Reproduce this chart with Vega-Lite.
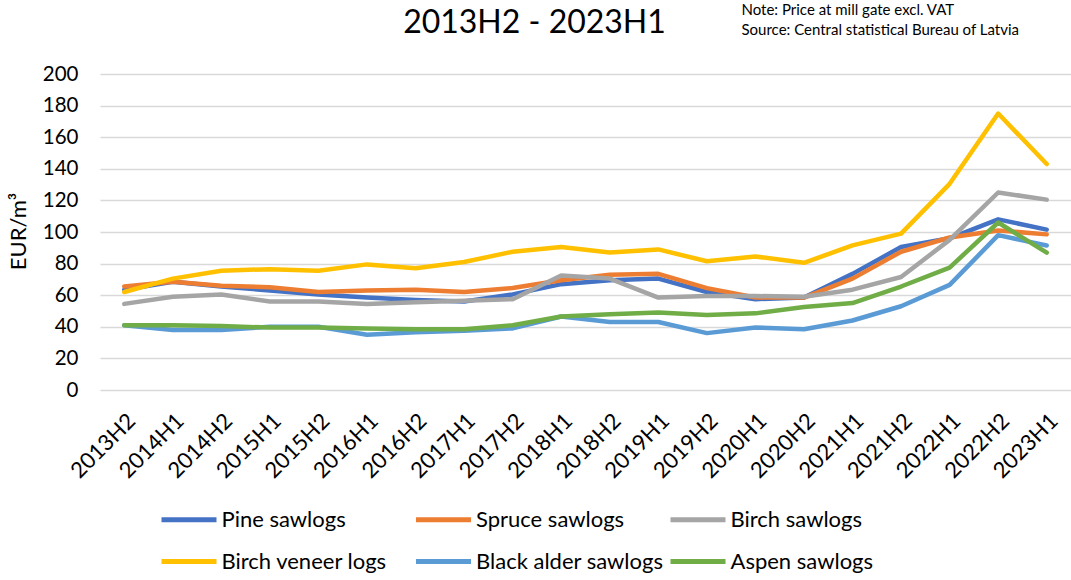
{
  "$schema": "https://vega.github.io/schema/vega-lite/v6.json",
  "width": 971,
  "height": 316,
  "autosize": "none",
  "padding": {"left": 100, "top": 74, "right": 0, "bottom": 190},
  "background": "white",
  "title": {
    "text": "2013H2 - 2023H1",
    "anchor": "middle",
    "frame": "group",
    "dx": -51,
    "baseline": "alphabetic",
    "offset": -63,
    "font": "Lato",
    "fontSize": 32,
    "fontWeight": "normal",
    "color": "#000000"
  },
  "data": {
    "values": [
      {"period": "2013H2", "Pine sawlogs": 63.5, "Spruce sawlogs": 65.5, "Birch sawlogs": 54.5, "Birch veneer logs": 62, "Black alder sawlogs": 41, "Aspen sawlogs": 41},
      {"period": "2014H1", "Pine sawlogs": 68.5, "Spruce sawlogs": 68.5, "Birch sawlogs": 59, "Birch veneer logs": 70.5, "Black alder sawlogs": 38, "Aspen sawlogs": 41},
      {"period": "2014H2", "Pine sawlogs": 65.5, "Spruce sawlogs": 66, "Birch sawlogs": 60.5, "Birch veneer logs": 75.5, "Black alder sawlogs": 38, "Aspen sawlogs": 40.5},
      {"period": "2015H1", "Pine sawlogs": 63, "Spruce sawlogs": 65, "Birch sawlogs": 56, "Birch veneer logs": 76.5, "Black alder sawlogs": 40, "Aspen sawlogs": 39.5},
      {"period": "2015H2", "Pine sawlogs": 60.5, "Spruce sawlogs": 62, "Birch sawlogs": 56, "Birch veneer logs": 75.5, "Black alder sawlogs": 40, "Aspen sawlogs": 39.5},
      {"period": "2016H1", "Pine sawlogs": 58.5, "Spruce sawlogs": 63, "Birch sawlogs": 54.5, "Birch veneer logs": 79.5, "Black alder sawlogs": 35, "Aspen sawlogs": 39},
      {"period": "2016H2", "Pine sawlogs": 57, "Spruce sawlogs": 63.5, "Birch sawlogs": 55.5, "Birch veneer logs": 77, "Black alder sawlogs": 36.5, "Aspen sawlogs": 38.5},
      {"period": "2017H1", "Pine sawlogs": 56, "Spruce sawlogs": 62, "Birch sawlogs": 56.5, "Birch veneer logs": 81, "Black alder sawlogs": 37.5, "Aspen sawlogs": 38.5},
      {"period": "2017H2", "Pine sawlogs": 60.5, "Spruce sawlogs": 64.5, "Birch sawlogs": 57.5, "Birch veneer logs": 87.5, "Black alder sawlogs": 39, "Aspen sawlogs": 41},
      {"period": "2018H1", "Pine sawlogs": 67, "Spruce sawlogs": 69.5, "Birch sawlogs": 72.5, "Birch veneer logs": 90.5, "Black alder sawlogs": 46.5, "Aspen sawlogs": 46.5},
      {"period": "2018H2", "Pine sawlogs": 69.5, "Spruce sawlogs": 73, "Birch sawlogs": 70.5, "Birch veneer logs": 87, "Black alder sawlogs": 43, "Aspen sawlogs": 48},
      {"period": "2019H1", "Pine sawlogs": 70.5, "Spruce sawlogs": 73.5, "Birch sawlogs": 58.5, "Birch veneer logs": 89, "Black alder sawlogs": 43, "Aspen sawlogs": 49},
      {"period": "2019H2", "Pine sawlogs": 62, "Spruce sawlogs": 64.5, "Birch sawlogs": 59.5, "Birch veneer logs": 81.5, "Black alder sawlogs": 36, "Aspen sawlogs": 47.5},
      {"period": "2020H1", "Pine sawlogs": 57.5, "Spruce sawlogs": 58.5, "Birch sawlogs": 59.5, "Birch veneer logs": 84.5, "Black alder sawlogs": 39.5, "Aspen sawlogs": 48.5},
      {"period": "2020H2", "Pine sawlogs": 58.5, "Spruce sawlogs": 58.5, "Birch sawlogs": 59, "Birch veneer logs": 80.5, "Black alder sawlogs": 38.5, "Aspen sawlogs": 52.5},
      {"period": "2021H1", "Pine sawlogs": 73.5, "Spruce sawlogs": 70.5, "Birch sawlogs": 63.5, "Birch veneer logs": 91.5, "Black alder sawlogs": 44, "Aspen sawlogs": 55},
      {"period": "2021H2", "Pine sawlogs": 90.5, "Spruce sawlogs": 87.5, "Birch sawlogs": 71.5, "Birch veneer logs": 99, "Black alder sawlogs": 53, "Aspen sawlogs": 65.5},
      {"period": "2022H1", "Pine sawlogs": 96, "Spruce sawlogs": 96.5, "Birch sawlogs": 95, "Birch veneer logs": 130.5, "Black alder sawlogs": 66.5, "Aspen sawlogs": 77.5},
      {"period": "2022H2", "Pine sawlogs": 108, "Spruce sawlogs": 101, "Birch sawlogs": 125, "Birch veneer logs": 175, "Black alder sawlogs": 98, "Aspen sawlogs": 106},
      {"period": "2023H1", "Pine sawlogs": 101.5, "Spruce sawlogs": 98.5, "Birch sawlogs": 120.5, "Birch veneer logs": 143, "Black alder sawlogs": 91.5, "Aspen sawlogs": 87}
    ]
  },
  "transform": [
    {"fold": ["Pine sawlogs", "Spruce sawlogs", "Birch sawlogs", "Birch veneer logs", "Black alder sawlogs", "Aspen sawlogs"], "as": ["assortment", "price"]}
  ],
  "mark": {"type": "line", "strokeWidth": 4.5, "strokeJoin": "round", "strokeCap": "round"},
  "encoding": {
    "x": {
      "field": "period",
      "type": "ordinal",
      "sort": null,
      "scale": {"type": "point", "padding": 0.5},
      "axis": {
        "title": ["Note: Price at mill gate excl. VAT", "Source: Central statistical Bureau of Latvia"],
        "titleFont": "Lato",
        "titleFontSize": 15,
        "titleFontWeight": "normal",
        "titleColor": "#000000",
        "titleAngle": 0,
        "titleAlign": "left",
        "titleBaseline": "alphabetic",
        "titleLineHeight": 20,
        "titleX": 641,
        "titleY": -376,
        "labelAngle": -45,
        "labelFont": "Lato",
        "labelFontSize": 22,
        "labelColor": "#000000",
        "labelPadding": 20,
        "ticks": false,
        "domain": false,
        "grid": false
      }
    },
    "y": {
      "field": "price",
      "type": "quantitative",
      "scale": {"domain": [0, 200], "nice": false},
      "axis": {
        "title": "EUR/m³",
        "titleFont": "Lato",
        "titleFontSize": 22,
        "titleFontWeight": "normal",
        "titleColor": "#000000",
        "titleAngle": -90,
        "titleAlign": "center",
        "titleBaseline": "middle",
        "titleX": -82,
        "titleY": 157,
        "values": [0, 20, 40, 60, 80, 100, 120, 140, 160, 180, 200],
        "labelFont": "Lato",
        "labelFontSize": 20.5,
        "labelColor": "#000000",
        "labelPadding": 22,
        "ticks": false,
        "domain": false,
        "grid": true,
        "gridColor": "#d9d9d9",
        "gridWidth": 1.5
      }
    },
    "color": {
      "field": "assortment",
      "type": "nominal",
      "scale": {
        "domain": ["Pine sawlogs", "Spruce sawlogs", "Birch sawlogs", "Birch veneer logs", "Black alder sawlogs", "Aspen sawlogs"],
        "range": ["#4472C4", "#ED7D31", "#A5A5A5", "#FFC000", "#5B9BD5", "#70AD47"]
      },
      "legend": {
        "title": null,
        "orient": "none",
        "legendX": 76.5,
        "legendY": 433,
        "direction": "horizontal",
        "columns": 3,
        "gridAlign": "all",
        "columnPadding": -3.5,
        "rowPadding": 18,
        "symbolType": "M-2.75,0H2.75",
        "symbolSize": 400,
        "symbolStrokeWidth": 5,
        "labelOffset": 20,
        "labelFont": "Lato",
        "labelFontSize": 22,
        "labelColor": "#000000",
        "labelLimit": 400
      }
    }
  },
  "config": {
    "view": {"stroke": null}
  }
}
